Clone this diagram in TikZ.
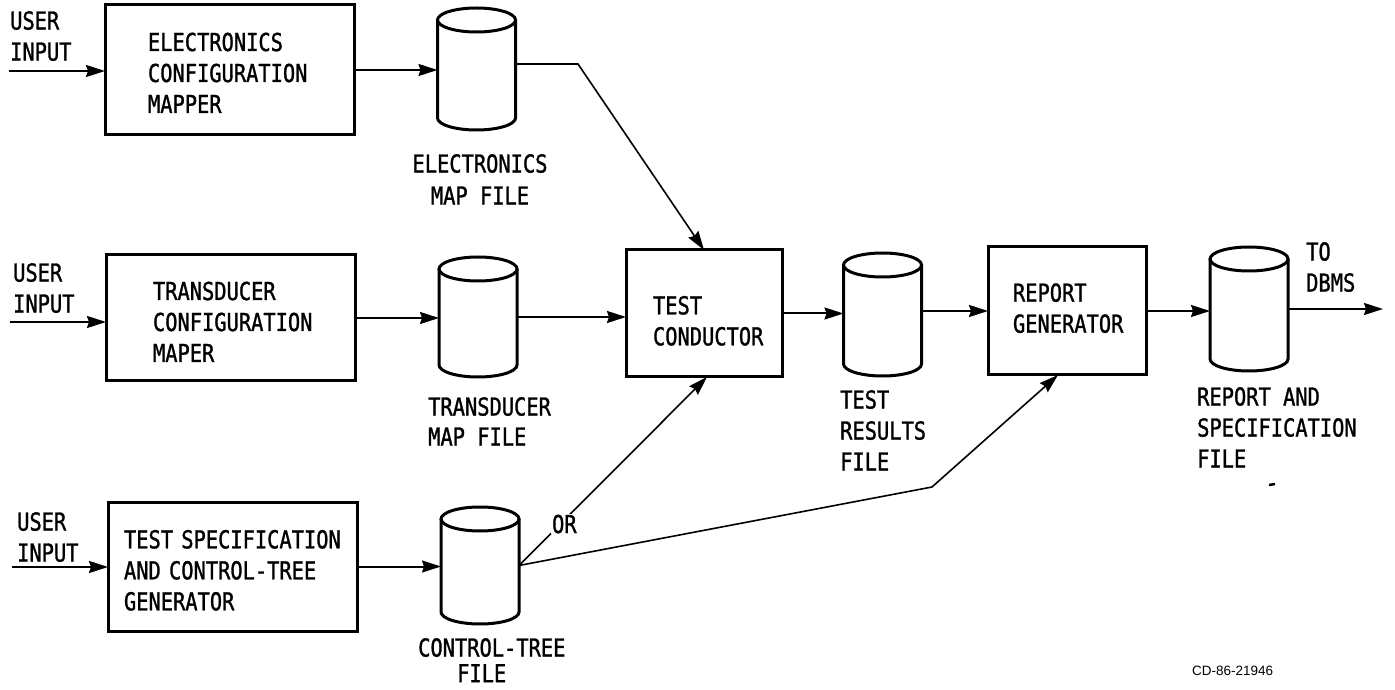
\documentclass[tikz,border=0pt]{standalone}
\usepackage{fontspec}
\newfontfamily\lettering[FakeStretch=0.825,FakeBold=1.2]{DejaVu Sans Mono}
\newfontfamily\smallsans{Liberation Sans}
\usetikzlibrary{arrows.meta,calc}
\newcommand\dbdraw[1]{%
  \draw[dbline] ([yshift=-12pt]#1.north west) -- ([yshift=12pt]#1.south west)
    arc[start angle=180,end angle=360,x radius=39pt,y radius=12pt]
    -- ([yshift=-12pt]#1.north east);
  \draw[dbline] ([yshift=-12pt]#1.north) ellipse[x radius=39pt,y radius=12pt];}
\begin{document}
\begin{tikzpicture}[x=1pt,y=1pt,
  lett/.style={font=\lettering\fontsize{24.7pt}{31pt}\selectfont},
  procbox/.style={draw, line width=3pt, lett, align=left, inner ysep=0pt, outer sep=0pt},
  dbbody/.style={rectangle, minimum width=78pt, inner sep=0pt, outer sep=0pt},
  dbline/.style={line width=3pt},
  flow/.style={line width=2pt, -{Stealth[length=19pt,width=12pt,inset=2pt]}},
  diag/.style={line width=1.6pt, -{Stealth[length=19pt,width=12pt,inset=2pt]}},
  lbl/.style={lett, align=left, inner sep=0pt, anchor=north west}]
\useasboundingbox (0,0) rectangle (1395,689);

% process boxes
\node[procbox, text width=163pt, inner xsep=43pt, minimum height=130pt] (B1) at (229.5,619)
  {\rule{0pt}{24pt}ELECTRONICS\\CONFIGURATION\\MAPPER};
\node[procbox, text width=155pt, inner xsep=47pt, minimum height=126pt] (B2) at (230.5,371)
  {\rule{0pt}{26pt}TRANSDUCER\\CONFIGURATION\\MAPER};
\node[procbox, text width=217pt, inner xsep=16pt, minimum height=129pt] (B3) at (232.5,122.5)
  {\rule{0pt}{26pt}TEST SPECIFICATION\\AND CONTROL-TREE\\GENERATOR};
\node[procbox, text width=102pt, inner xsep=27pt, minimum height=127pt] (TC) at (704,375.5)
  {\rule{0pt}{33pt}TEST\\CONDUCTOR};
\node[procbox, text width=108pt, inner xsep=25pt, minimum height=128pt] (RG) at (1067,378)
  {REPORT\\GENERATOR\rule[-6pt]{0pt}{6pt}};

% files
\node[dbbody, minimum height=122pt] (C1) at (476.5,620) {};
\node[dbbody, minimum height=120pt] (C2) at (478,372) {};
\node[dbbody, minimum height=117pt] (C3) at (480,123.5) {};
\node[dbbody, minimum height=123pt] (C4) at (882.5,374.5) {};
\node[dbbody, minimum height=124pt] (C5) at (1249,380) {};
\dbdraw{C1}\dbdraw{C2}\dbdraw{C3}\dbdraw{C4}\dbdraw{C5}

% labels
\node[lbl] (ui1) at (10,678) {USER\\INPUT};
\node[lbl] (ui2) at (13,426) {USER\\INPUT};
\node[lbl] (ui3) at (17,177) {USER\\INPUT};
\node[lett, align=center, inner sep=0pt, anchor=north] (l1) at (480,535) {ELECTRONICS\\[1pt]MAP FILE};
\node[lbl] (l2) at (428,292) {TRANSDUCER\\[-1pt]MAP FILE};
\node[lbl] (l3) at (418,51) {CONTROL-TREE};
\node[lbl] (l3b) at (457,25) {FILE};
\node[lbl] (l4) at (840,299) {TEST\\RESULTS\\FILE};
\node[lbl] (l5) at (1197,302) {REPORT AND\\SPECIFICATION\\FILE};
\node[lbl] (l6) at (1306,447) {TO\\DBMS};
\node[font=\smallsans\fontsize{13.5pt}{16pt}\selectfont, inner sep=0pt, anchor=west] (cd) at (1192,18) {CD-86-21946};

% connectors
\coordinate (u1) at (9,618);
\draw[flow] (u1) -- (u1 -| B1.west);
\draw[flow] (B1.east) -- (B1.east -| C1.west);
\coordinate (k1) at (578,625);
\draw[diag] (C1.east |- k1) -- (k1) -- (TC.north);

\coordinate (u2) at (10,367);
\draw[flow] (u2) -- (u2 -| B2.west);
\draw[flow] (B2.east) -- (B2.east -| C2.west);
\draw[flow] (C2.east) -- (C2.east -| TC.west);
\draw[flow] (TC.east) -- (TC.east -| C4.west);
\draw[flow] (C4.east |- RG.west) -- (RG.west);
\draw[flow] (RG.east) -- (RG.east -| C5.west);
\coordinate (dbms) at (1383,380);
\draw[flow] (C5.east) -- (dbms);

\coordinate (u3) at (12,122);
\draw[flow] (u3) -- (u3 -| B3.west);
\draw[flow] (B3.east) -- (B3.east -| C3.west);
\draw[diag] (C3.east) -- node[pos=0.22, lett, fill=white, inner sep=1pt, xshift=4pt] (or) {OR} ([xshift=3pt]TC.south);
\coordinate (k2) at (932,202);
\draw[diag] (C3.east) -- (k2) -- ([xshift=-9pt]RG.south);

% speck
\draw[line width=2.5pt] (1269,204) -- (1275,205);
\end{tikzpicture}
\end{document}
